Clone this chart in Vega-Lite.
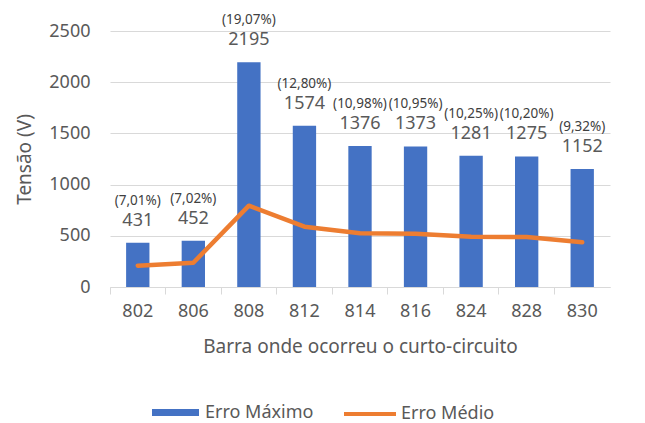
{
  "$schema": "https://vega.github.io/schema/vega-lite/v6.json",
  "width": 500,
  "height": 256,
  "autosize": {"type": "none"},
  "padding": {"left": 110, "top": 31, "right": 35, "bottom": 136},
  "background": "white",
  "config": {
    "font": "Noto Sans",
    "view": {"stroke": null},
    "axis": {"labelColor": "#595959", "titleColor": "#595959", "labelFont": "Noto Sans", "titleFont": "Noto Sans", "titleFontWeight": "normal"},
    "legend": {"labelColor": "#595959", "labelFont": "Noto Sans", "labelFontSize": 18, "labelOffset": 6, "orient": "none", "direction": "horizontal"}
  },
  "data": {
    "values": [
      {"barra": "802", "max": 431, "medio": 208, "pct": "(7,01%)"},
      {"barra": "806", "max": 452, "medio": 237, "pct": "(7,02%)"},
      {"barra": "808", "max": 2195, "medio": 794, "pct": "(19,07%)"},
      {"barra": "812", "max": 1574, "medio": 589, "pct": "(12,80%)"},
      {"barra": "814", "max": 1376, "medio": 524, "pct": "(10,98%)"},
      {"barra": "816", "max": 1373, "medio": 521, "pct": "(10,95%)"},
      {"barra": "824", "max": 1281, "medio": 491, "pct": "(10,25%)"},
      {"barra": "828", "max": 1275, "medio": 488, "pct": "(10,20%)"},
      {"barra": "830", "max": 1152, "medio": 436, "pct": "(9,32%)"}
    ]
  },
  "encoding": {
    "x": {
      "field": "barra",
      "type": "ordinal",
      "sort": null,
      "scale": {"paddingInner": 0, "paddingOuter": 0},
      "axis": {
        "title": "Barra onde ocorreu o curto-circuito",
        "titleFontSize": 19,
        "titlePadding": 17,
        "labelFontSize": 18,
        "labelAngle": 0,
        "labelPadding": 8,
        "bandPosition": 0,
        "tickSize": 7,
        "tickColor": "#d9d9d9",
        "domainColor": "#d9d9d9",
        "grid": false
      }
    }
  },
  "layer": [
    {
      "mark": {"type": "bar", "width": {"band": 0.42}},
      "encoding": {
        "y": {
          "field": "max",
          "type": "quantitative",
          "scale": {"domain": [0, 2500], "nice": false},
          "axis": {
            "title": "Tensão (V)",
            "titleFontSize": 19,
            "titlePadding": 14,
            "labelFontSize": 18,
            "labelPadding": 20,
            "format": "d",
            "values": [0, 500, 1000, 1500, 2000, 2500],
            "domain": false,
            "ticks": false,
            "gridColor": "#d9d9d9",
            "gridWidth": 1
          }
        },
        "fill": {
          "datum": "Erro Máximo",
          "scale": {"range": ["#4472C4"]},
          "legend": {
            "title": null,
            "legendX": 42,
            "legendY": 358,
            "symbolType": "M-1,-0.15H1V0.15H-1Z",
            "symbolSize": 2209,
            "symbolStrokeWidth": 0,
            "symbolOpacity": 1
          }
        }
      }
    },
    {
      "mark": {"type": "line", "strokeWidth": 4.5, "strokeCap": "round", "strokeJoin": "round"},
      "encoding": {
        "y": {"field": "medio", "type": "quantitative"},
        "stroke": {
          "datum": "Erro Médio",
          "scale": {"range": ["#ED7D31"]},
          "legend": {
            "title": null,
            "legendX": 232,
            "legendY": 355,
            "labelOffset": 3,
            "symbolType": "stroke",
            "symbolSize": 2704,
            "symbolStrokeWidth": 4
          }
        }
      }
    },
    {
      "mark": {"type": "text", "dy": -17, "baseline": "alphabetic", "fontSize": 18, "color": "#595959"},
      "encoding": {
        "y": {"field": "max", "type": "quantitative"},
        "text": {"field": "max", "type": "quantitative", "format": "d"}
      }
    },
    {
      "mark": {"type": "text", "dy": -38, "baseline": "alphabetic", "fontSize": 13.5, "color": "#404040"},
      "encoding": {
        "y": {"field": "max", "type": "quantitative"},
        "text": {"field": "pct", "type": "nominal"}
      }
    }
  ],
  "resolve": {"scale": {"fill": "independent", "stroke": "independent"}}
}
